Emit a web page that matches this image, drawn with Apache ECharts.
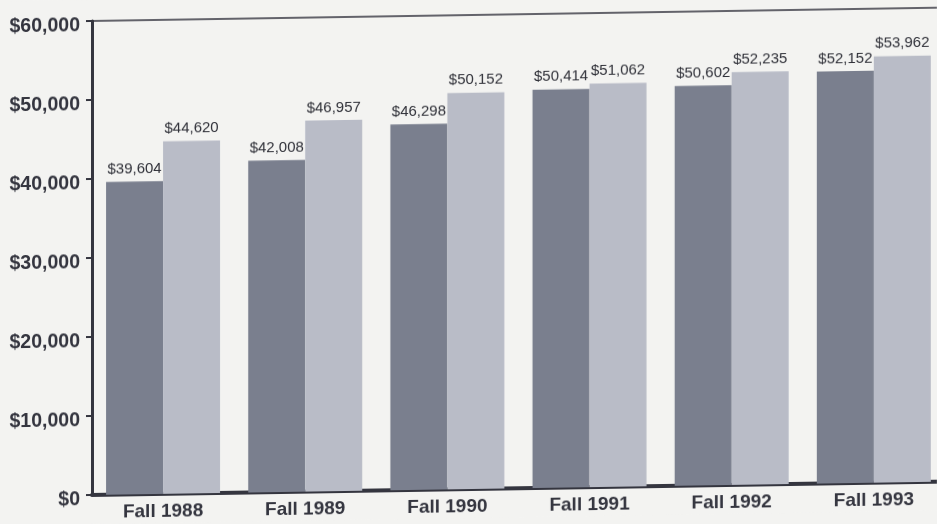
<!DOCTYPE html>
<html><head><meta charset="utf-8">
<script src="https://cdn.jsdelivr.net/npm/echarts@6/dist/echarts.min.js"></script>
<style>html,body{margin:0;padding:0;background:#f3f3f1;overflow:hidden;}#c{width:937px;height:524px;transform-origin:90px 495px;transform:skewY(-0.9deg);}</style>
</head><body><div id="c"></div>
<script>
const categories = ['Fall 1988','Fall 1989','Fall 1990','Fall 1991','Fall 1992','Fall 1993'];
const seriesA = [39604, 42008, 46298, 50414, 50602, 52152];
const seriesB = [44620, 46957, 50152, 51062, 52235, 53962];
const yTicks = [0, 10000, 20000, 30000, 40000, 50000, 60000];

const fmt = v => '$' + v.toLocaleString('en-US');
const chart = echarts.init(document.getElementById('c'));
const labelStyle = {show:true, position:'top', distance:5, formatter:p=>fmt(p.value), color:'#2f3038', fontFamily:'Liberation Sans', fontSize:15};
chart.setOption({
  backgroundColor:'#f3f3f1',
  animation:false,
  grid:{left:92, top:21, width:853, height:474, outerBoundsMode:'none', containLabel:false},
  xAxis:[{
    type:'category', data:categories,
    axisLine:{show:true, lineStyle:{color:'#34353f', width:4}},
    axisTick:{show:false},
    axisLabel:{color:'#34353f', fontFamily:'Liberation Sans', fontWeight:'bold', fontSize:19, margin:8}
  },{
    type:'category', data:categories, position:'top',
    axisLine:{show:true, lineStyle:{color:'#34353f', width:1.5}},
    axisTick:{show:false}, axisLabel:{show:false}
  }],
  yAxis:{
    type:'value', min:yTicks[0], max:yTicks[yTicks.length-1], interval:10000,
    axisLine:{show:true, lineStyle:{color:'#34353f', width:3}},
    axisTick:{show:true, length:6, lineStyle:{color:'#34353f', width:2}},
    splitLine:{show:false},
    axisLabel:{color:'#34353f', fontFamily:'Liberation Sans', fontWeight:'bold', fontSize:19.5, margin:12, verticalAlign:'top', lineHeight:9, formatter:v=>fmt(v)}
  },
  series:[
    {type:'bar', data:seriesA, barWidth:57, barGap:'0%', itemStyle:{color:'#7a7f8e'}, label:labelStyle},
    {type:'bar', data:seriesB, barWidth:57, barGap:'0%', itemStyle:{color:'#b9bcc7'}, label:labelStyle}
  ]
});
</script></body></html>
